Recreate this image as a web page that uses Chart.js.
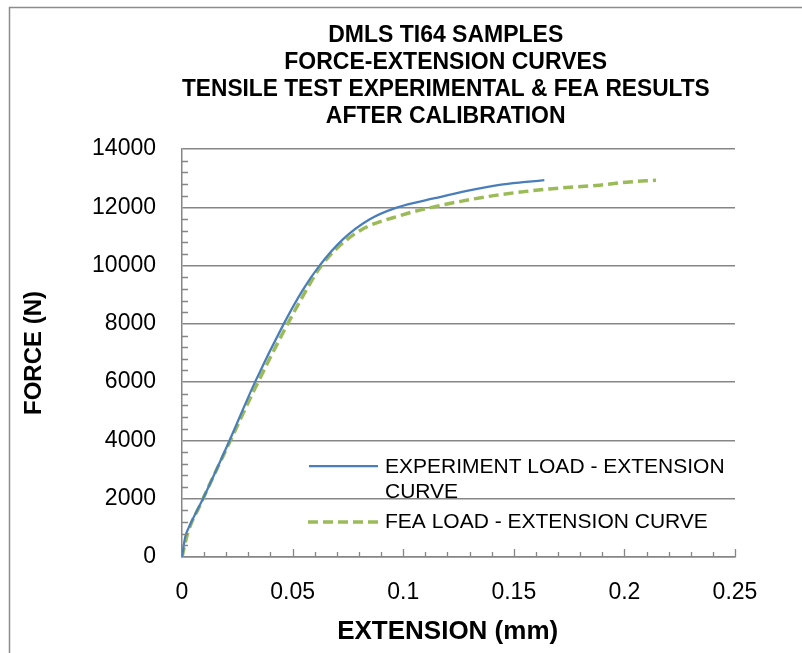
<!DOCTYPE html>
<html lang="en">
<head>
  <meta charset="UTF-8">
  <title>DMLS Ti64 force-extension</title>
  <script src="https://cdn.jsdelivr.net/npm/chart.js@4.4.1/dist/chart.umd.min.js"></script>
  <style>
    html, body { margin: 0; padding: 0; background: #fff; }
    .chart-box { width: 802px; height: 653px; position: relative; }
  </style>
</head>
<body>
<div class="chart-box">
  <canvas id="chart"></canvas>
</div>
<script>
  // values
  const expExtension = [0, 0.0015, 0.0033, 0.0093, 0.0215, 0.0330, 0.0460, 0.0545, 0.0620, 0.0726, 0.0847, 0.0967, 0.1148, 0.1299, 0.1435, 0.1555, 0.1638];
  const expForce     = [0, 700, 1050, 1970, 4000, 6000, 8000, 9150, 9980, 10890, 11580, 11980, 12320, 12580, 12770, 12870, 12930];

  const feaExtension = [0, 0.0026, 0.0086, 0.0206, 0.0334, 0.0463, 0.0550, 0.0630, 0.0787, 0.0997, 0.1148, 0.1299, 0.1435, 0.1661, 0.1887, 0.2007, 0.2143];
  const feaForce     = [0, 820, 1850, 3790, 5850, 7790, 9000, 10000, 11120, 11740, 12030, 12260, 12430, 12630, 12760, 12860, 12930];

  const xTickValues = [0, 0.05, 0.1, 0.15, 0.2, 0.25];
  const yTickValues = [0, 2000, 4000, 6000, 8000, 10000, 12000, 14000];
  const xMinorStep = 0.01;
  const yMinorStep = 400;

  const titleLines = ['DMLS TI64 SAMPLES', 'FORCE-EXTENSION CURVES', 'TENSILE TEST EXPERIMENTAL & FEA RESULTS', 'AFTER CALIBRATION'];
  const xTitle = 'EXTENSION (mm)';
  const yTitle = 'FORCE (N)';
  const expLabel = ['EXPERIMENT LOAD - EXTENSION', 'CURVE'];
  const feaLabel = ['FEA LOAD - EXTENSION CURVE'];

  const BLUE = '#4A7EBB';
  const GREEN = '#9BBB59';
  const GRID = '#868686';
  const FONT = '"Liberation Sans", Arial, sans-serif';

  Chart.defaults.font.family = FONT;
  Chart.defaults.color = '#000';

  const toPoints = (xs, ys) => xs.map((x, i) => ({ x: x, y: ys[i] }));
  // Excel centres the titles on the whole (cropped) chart, a bit left of the plot centre
  const nudgeLeft = (t, n) => t + ' '.repeat(n);

  // outer frame (only left/top visible in the crop)
  const framePlugin = {
    id: 'frame',
    beforeDraw(chart) {
      const ctx = chart.ctx;
      ctx.save();
      ctx.fillStyle = '#fff';
      ctx.fillRect(0, 0, chart.width, chart.height);
      ctx.strokeStyle = '#8c8c8c';
      ctx.lineWidth = 1.5;
      ctx.strokeRect(9.5, 7.5, 1200, 1200);
      ctx.restore();
    }
  };

  // small inward tick marks like Excel
  const minorTicksPlugin = {
    id: 'minorTicks',
    afterDatasetsDraw(chart) {
      const ctx = chart.ctx;
      const xs = chart.scales.x, ys = chart.scales.y;
      const x0 = xs.getPixelForValue(0);
      const y0 = ys.getPixelForValue(0);
      ctx.save();
      ctx.strokeStyle = GRID;
      ctx.lineWidth = 1.3;
      ctx.beginPath();
      for (let i = 1; i * xMinorStep <= xs.max + 1e-9; i++) {
        const px = Math.round(xs.getPixelForValue(i * xMinorStep)) + 0.5;
        const len = (i % 5 === 0) ? 8 : 5;
        ctx.moveTo(px, y0);
        ctx.lineTo(px, y0 - len);
      }
      for (let j = 1; j * yMinorStep < ys.max; j++) {
        if (j % 5 === 0) continue;
        const py = Math.round(ys.getPixelForValue(j * yMinorStep)) + 0.5;
        ctx.moveTo(x0, py);
        ctx.lineTo(x0 + 6, py);
      }
      ctx.stroke();
      ctx.restore();
    }
  };

  // legend with wrapped text, inside the plot
  const legendPlugin = {
    id: 'wrapLegend',
    afterDraw(chart) {
      const ctx = chart.ctx;
      ctx.save();
      ctx.lineWidth = 2.25;
      ctx.strokeStyle = BLUE;
      ctx.beginPath();
      ctx.moveTo(309, 466);
      ctx.lineTo(378, 466);
      ctx.stroke();
      ctx.lineWidth = 3.5;
      ctx.strokeStyle = GREEN;
      ctx.setLineDash([10, 5]);
      ctx.beginPath();
      ctx.moveTo(308, 522);
      ctx.lineTo(378, 522);
      ctx.stroke();
      ctx.setLineDash([]);
      ctx.fillStyle = '#000';
      ctx.font = '21px ' + FONT;
      ctx.textBaseline = 'middle';
      ctx.textAlign = 'left';
      expLabel.forEach((t, i) => ctx.fillText(t, 385, 467 + i * 25));
      feaLabel.forEach((t, i) => ctx.fillText(t, 385, 522 + i * 25));
      ctx.restore();
    }
  };

  new Chart(document.getElementById('chart'), {
    type: 'scatter',
    data: {
      datasets: [
        {
          label: expLabel.join(' '),
          data: toPoints(expExtension, expForce),
          showLine: true,
          borderColor: BLUE,
          backgroundColor: BLUE,
          borderWidth: 2.25,
          pointRadius: 0,
          cubicInterpolationMode: 'monotone'
        },
        {
          label: feaLabel.join(' '),
          data: toPoints(feaExtension, feaForce),
          showLine: true,
          borderColor: GREEN,
          backgroundColor: GREEN,
          borderWidth: 3.5,
          borderDash: [10, 5],
          pointRadius: 0,
          cubicInterpolationMode: 'monotone'
        }
      ]
    },
    options: {
      responsive: true,
      maintainAspectRatio: false,
      animation: false,
      layout: { padding: { left: 18, right: 67, top: 0, bottom: 0 } },
      plugins: {
        legend: { display: false },
        tooltip: { enabled: false },
        title: {
          display: true,
          fullSize: false,
          text: titleLines.map(t => nudgeLeft(t, 4)),
          color: '#000',
          font: { size: 23, weight: 'bold', lineHeight: 1.174 },
          padding: { top: 22.5, bottom: 18.5 }
        }
      },
      scales: {
        x: {
          type: 'linear',
          min: 0,
          max: 0.25,
          afterBuildTicks: s => { s.ticks = xTickValues.map(v => ({ value: v })); },
          afterFit: s => { s.height = 96; },
          grid: { display: false, drawTicks: false },
          border: { display: true, color: GRID, width: 1.5 },
          ticks: {
            font: { size: 23 },
            padding: 22,
            maxRotation: 0,
            callback: v => String(v)
          },
          title: {
            display: true,
            text: nudgeLeft(xTitle, 3),
            font: { size: 26, weight: 'bold' },
            padding: { top: 0, bottom: 6 }
          }
        },
        y: {
          type: 'linear',
          min: 0,
          max: 14000,
          afterBuildTicks: s => { s.ticks = yTickValues.map(v => ({ value: v })); },
          afterFit: s => { s.width = 164; },
          grid: { color: GRID, lineWidth: 1.5, drawTicks: false },
          border: { display: true, color: GRID, width: 1.5 },
          ticks: {
            font: { size: 23 },
            padding: 26,
            callback: v => String(v)
          },
          title: {
            display: true,
            text: yTitle,
            font: { size: 24, weight: 'bold' },
            padding: { top: 2, bottom: 0 }
          }
        }
      }
    },
    plugins: [framePlugin, minorTicksPlugin, legendPlugin]
  });
</script>
</body>
</html>
